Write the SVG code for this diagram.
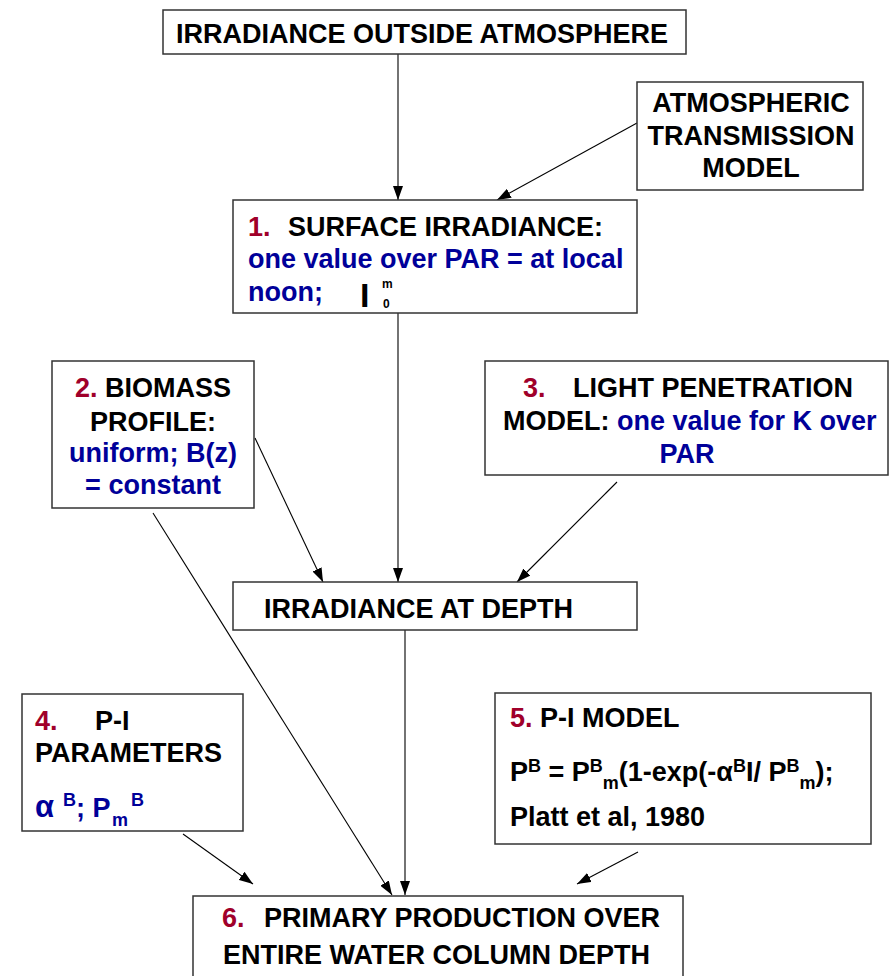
<svg xmlns="http://www.w3.org/2000/svg" width="895" height="976" viewBox="0 0 895 976">
<style>
.box{fill:#fff;stroke:#333;stroke-width:1.5}
text{font-family:"Liberation Sans",Arial,sans-serif;font-weight:bold;font-size:27px;fill:#000}
.r{fill:#A0002A}
.b{fill:#000099}
.c{text-anchor:middle}
.con{stroke:#000;stroke-width:1.1;fill:none;marker-end:url(#ah)}
</style>
<defs>
<marker id="ah" viewBox="0 0 14 10" refX="14" refY="5" markerWidth="14" markerHeight="10" markerUnits="userSpaceOnUse" orient="auto">
<path d="M0,0 L14,5 L0,10 Z" fill="#000"/>
</marker>
</defs>
<rect width="895" height="976" fill="#fff"/>
<g id="connectors">
<line class="con" x1="398" y1="54" x2="398" y2="200"/>
<line class="con" x1="637" y1="123" x2="497" y2="200"/>
<line class="con" x1="398" y1="313" x2="398" y2="582"/>
<line class="con" x1="255" y1="438" x2="323" y2="582"/>
<line class="con" x1="617" y1="482" x2="517" y2="582"/>
<line class="con" x1="153" y1="513" x2="392" y2="895"/>
<line class="con" x1="405" y1="630" x2="405" y2="895"/>
<line class="con" x1="183" y1="834" x2="253" y2="884"/>
<line class="con" x1="638" y1="852" x2="577" y2="884"/>
</g>
<g id="n-outside">
<rect class="box" x="163" y="10" width="523" height="44"/>
<text x="176" y="43">IRRADIANCE OUTSIDE ATMOSPHERE</text>
</g>
<g id="n-atmos">
<rect class="box" x="637" y="82" width="226" height="108"/>
<text class="c" x="751" y="112">ATMOSPHERIC</text>
<text class="c" x="751" y="145">TRANSMISSION</text>
<text class="c" x="751" y="177">MODEL</text>
</g>
<g id="n-surface">
<rect class="box" x="233" y="200" width="404" height="113"/>
<text x="248" y="236"><tspan class="r">1.</tspan><tspan x="288">SURFACE IRRADIANCE:</tspan></text>
<text class="b" x="248" y="268">one value over PAR = at local</text>
<text class="b" x="248" y="301">noon;</text>
<text x="360" y="307" style="font-size:34px">I</text>
<text x="382" y="288" style="font-size:12px">m</text>
<text x="383" y="308" style="font-size:12px">0</text>
</g>
<g id="n-biomass">
<rect class="box" x="52" y="361" width="202" height="147"/>
<text class="c" x="153" y="397"><tspan class="r">2.</tspan> BIOMASS</text>
<text class="c" x="153" y="431">PROFILE:</text>
<text class="c b" x="153" y="462">uniform; B(z)</text>
<text class="c b" x="153" y="494">= constant</text>
</g>
<g id="n-light">
<rect class="box" x="485" y="361" width="403" height="114"/>
<text x="523" y="397"><tspan class="r">3.</tspan><tspan x="573">LIGHT PENETRATION</tspan></text>
<text x="503" y="430">MODEL: <tspan class="b">one value for K over</tspan></text>
<text class="c b" x="687" y="463">PAR</text>
</g>
<g id="n-depth">
<rect class="box" x="233" y="582" width="404" height="48"/>
<text x="264" y="618">IRRADIANCE AT DEPTH</text>
</g>
<g id="n-pi-params">
<rect class="box" x="22" y="694" width="221" height="137"/>
<text x="35" y="730"><tspan class="r">4.</tspan><tspan x="95">P-I</tspan></text>
<text x="35" y="762">PARAMETERS</text>
<text class="b" x="35" y="817" style="font-size:31px">α</text>
<text class="b" x="63" y="806" style="font-size:18px">B</text>
<text class="b" x="76" y="817">; P</text>
<text class="b" x="112" y="826" style="font-size:18px">m</text>
<text class="b" x="131" y="806" style="font-size:18px">B</text>
</g>
<g id="n-pi-model">
<rect class="box" x="495" y="693" width="376" height="151"/>
<text x="510" y="727"><tspan class="r">5.</tspan> P-I MODEL</text>
<text x="510" y="781">P<tspan dy="-9" style="font-size:18px">B</tspan><tspan dy="9"> = P</tspan><tspan dy="-9" style="font-size:18px">B</tspan><tspan dy="17" style="font-size:18px">m</tspan><tspan dy="-8">(1-exp(-α</tspan><tspan dy="-9" style="font-size:18px">B</tspan><tspan dy="9">I/ P</tspan><tspan dy="-9" style="font-size:18px">B</tspan><tspan dy="17" style="font-size:18px">m</tspan><tspan dy="-8">);</tspan></text>
<text x="510" y="826">Platt et al, 1980</text>
</g>
<g id="n-primary">
<rect class="box" x="193" y="896" width="490" height="90"/>
<text x="222" y="927"><tspan class="r">6.</tspan><tspan x="264">PRIMARY PRODUCTION OVER</tspan></text>
<text x="223" y="964">ENTIRE WATER COLUMN DEPTH</text>
</g>
</svg>
